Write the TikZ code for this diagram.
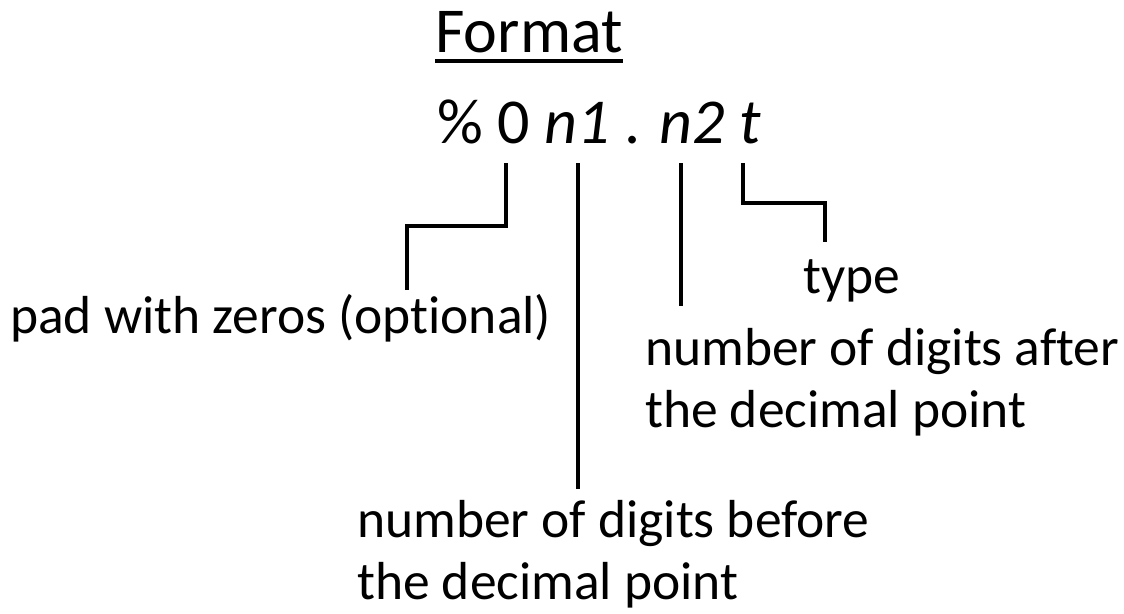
\documentclass[tikz,border=0pt]{standalone}
\usepackage{fontspec}
\setmainfont{Carlito}[Ligatures=NoCommon]
\usetikzlibrary{positioning,calc}

\begin{document}
\begin{tikzpicture}[
  x=1pt, y=-1pt,
  head/.style={inner sep=0pt, font=\fontsize{64}{70}\selectfont},
  note/.style={inner sep=0pt, anchor=base west, align=left, font=\fontsize{53.5}{62}\selectfont},
  lead/.style={line width=4pt},
]
\useasboundingbox (0,0) rectangle (1124,613);
\node[head, anchor=base] (title) at (529,52) {Format};
\draw[line width=4pt] ([yshift=-9pt]title.base west) -- ([yshift=-9pt]title.base east);
\node[head, anchor=base west] (fmt) at (437,143) {\% 0 \textit{n1} . \textit{n2} \textit{t}};
% labels (base = last line)
\node[note] (type) at (803,293) {type};
\node[note] (pad) at (10,333) {pad with zeros (optional)};
\node[note] (after) at (645,427) {number of digits after\\the decimal point};
\node[note] (before) at (357,599) {number of digits before\\the decimal point};
% leader lines
\coordinate (z0) at (506,163);
\coordinate (z1) at (407,290);
\coordinate (a0) at (578,163);
\coordinate (a1) at (578,489);
\coordinate (b0) at (681,163);
\coordinate (b1) at (681,306);
\coordinate (t0) at (743,163);
\coordinate (t1) at (825,242);
\draw[lead] (z0) -- ++(0,63) -| (z1);
\draw[lead] (a0) -- (a1);
\draw[lead] (b0) -- (b1);
\draw[lead] (t0) -- ++(0,40) -| (t1);
\end{tikzpicture}
\end{document}
